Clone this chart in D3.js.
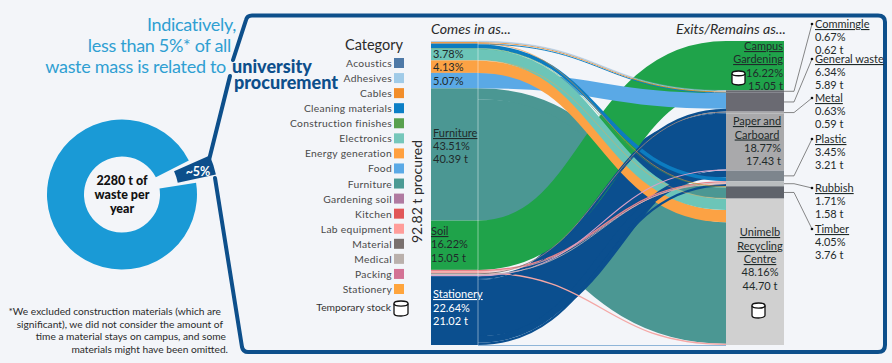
<!doctype html>
<html lang="en">
<head>
    <title>University procurement waste</title>
    <script src="https://d3js.org/d3.v7.min.js"></script>
    <style>
        body { margin: 0; background: #f3f5f9; }
        svg { display: block; }
        text { font-family: Lato, "Open Sans", sans-serif; fill: #2b2b2b; }
    </style>
</head>
<body>
    <script>
        const width = 892;
        const height = 363;

        // Donut
        const wasteShare = [95, 5];

        // Legend (colours as the legend shows them)
        const legendNames = ["Acoustics", "Adhesives", "Cables", "Cleaning materials", "Construction finishes",
            "Electronics", "Energy generation", "Food", "Furniture", "Gardening soil", "Kitchen",
            "Lab equipment", "Material", "Medical", "Packing", "Stationery"];
        const legendColours = ["#4e79a7", "#a0cbe8", "#f28e2b", "#0c7fc6", "#59a14f", "#76c7bb", "#ffa040", "#5aa9e6",
            "#4b9a94", "#b07aa1", "#e15759", "#ff9d9a", "#79706e", "#bab0ac", "#d37295", "#ffa53d"];

        // Sankey nodes, top to bottom
        const sourceNames = legendNames;
        const sourceColours = ["#8aa4c4", "#a7cbe8", "#f28e2b", "#0c7cc0", "#4aa04a", "#6cc5b8", "#fca244", "#5aa9e6",
            "#4b9793", "#1fa34a", "#e8828a", "#f4a7a5", "#8a7f80", "#c0b8b6", "#d8a0c8", "#0b4f8f"];
        const targetNames = ["Campus Gardening", "Commingle", "General waste", "Metal", "Paper and Carboard",
            "Plastic", "Rubbish", "Timber", "Unimelb Recycling Centre"];
        const targetColours = ["#1fa34a", "#6a6a72", "#6a6a72", "#a9a9ab", "#a9a9ab", "#7d858d", "#b9bdbf", "#5f636b", "#d0d0d0"];

        // Flows in tonnes, listed in the order they stack on the right hand side
        const flowSource = ["Gardening soil",
            "Acoustics", "Adhesives", "Cables",
            "Cleaning materials", "Food", "Stationery",
            "Material", "Stationery",
            "Stationery", "Packing",
            "Stationery", "Cleaning materials",
            "Kitchen", "Medical", "Lab equipment", "Stationery",
            "Cables", "Construction finishes", "Furniture", "Energy generation",
            "Electronics", "Energy generation", "Furniture", "Lab equipment"];
        const flowTarget = ["Campus Gardening",
            "Commingle", "Commingle", "Commingle",
            "General waste", "General waste", "General waste",
            "Metal", "Metal",
            "Paper and Carboard", "Paper and Carboard",
            "Plastic", "Plastic",
            "Rubbish", "Rubbish", "Rubbish", "Rubbish",
            "Timber", "Timber", "Timber", "Timber",
            "Unimelb Recycling Centre", "Unimelb Recycling Centre", "Unimelb Recycling Centre", "Unimelb Recycling Centre"];
        const flowTonnes = [15.05,
            0.10, 0.25, 0.27,
            0.29, 4.71, 0.89,
            0.30, 0.29,
            17.10, 0.33,
            2.05, 1.16,
            0.39, 0.25, 0.25, 0.69,
            0.18, 0.15, 3.30, 0.13,
            3.51, 3.70, 37.09, 0.40];

        const svg = d3.select("body")
            .append("svg")
            .attr("width", width)
            .attr("height", height);

        const navy = "#0d4f8b";

        /* Donut */
        const cx = 122, cy = 194.5;
        const deg = Math.PI / 180;
        const pie = d3.pie().sort(null).startAngle(81 * deg).endAngle(441 * deg);
        const slices = pie(wasteShare);
        const donut = svg.append("g").attr("transform", "translate(" + cx + "," + cy + ")");
        donut.append("path")
            .attr("d", d3.arc().innerRadius(38).outerRadius(75)(slices[0]))
            .attr("fill", "#1a9ad6");
        // the 5% slice is pulled out and drawn wider
        donut.append("path")
            .attr("d", d3.arc().innerRadius(57).outerRadius(96)
                .startAngle(slices[1].startAngle + 3 * deg)
                .endAngle(slices[1].endAngle - 3 * deg)())
            .attr("fill", navy);
        ["2280 t of", "waste per", "year"].forEach(function (t, i) {
            svg.append("text").attr("x", cx).attr("y", 185 + i * 14.2)
                .attr("text-anchor", "middle").attr("font-size", 12.5).attr("font-weight", 900)
                .style("fill", "#111").text(t);
        });
        svg.append("text").attr("x", 198).attr("y", 176).attr("text-anchor", "middle")
            .attr("font-size", 12.5).attr("font-weight", 700).style("fill", "#fff").text("~5%");

        /* Frame */
        const line = d3.line();
        svg.append("path")
            .attr("d", "M233,60 L246,20 Q247,15.5 252,15.5 L878,15.5 Q885,15.5 885,22 L885,345 Q885,352 878,352 L248,352 Q243,352 242,347 L215,178")
            .attr("fill", "none").attr("stroke", navy).attr("stroke-width", 4).attr("stroke-linecap", "round");
        svg.append("path")
            .attr("d", line([[230, 76], [209, 160]]))
            .attr("fill", "none").attr("stroke", navy).attr("stroke-width", 4).attr("stroke-linecap", "round");

        /* Headline */
        const headline = svg.append("g").attr("font-size", 18).attr("letter-spacing", -0.3).attr("text-anchor", "end");
        [["Indicatively,", 236, 31], ["less than 5%* of all", 231, 52], ["waste mass is related to", 226, 73]].forEach(function (t) {
            headline.append("text").attr("x", t[1]).attr("y", t[2]).style("fill", "#2f9fd2").text(t[0]);
        });
        [["university", 232, 73], ["procurement", 234, 89]].forEach(function (t) {
            svg.append("text").attr("x", t[1]).attr("y", t[2]).attr("font-size", 18).attr("font-weight", 900)
                .style("fill", navy).text(t[0]);
        });

        /* Footnote */
        [["*We excluded construction materials (which are", 221, 315],
         ["significant), we did not consider the amount of", 223, 328],
         ["time a material stays on campus, and some", 226, 340],
         ["materials might have been omitted.", 228, 353]].forEach(function (t) {
            svg.append("text").attr("x", t[1]).attr("y", t[2]).attr("text-anchor", "end")
                .attr("font-size", 10.2).text(t[0]);
        });

        /* Legend */
        svg.append("text").attr("x", 403).attr("y", 50).attr("text-anchor", "end").attr("font-size", 14.5).text("Category");
        const legendY = d3.scalePoint().domain(legendNames).range([63, 289]);
        const legend = svg.selectAll(".legend").data(legendNames).enter().append("g").attr("class", "legend");
        legend.append("rect")
            .attr("x", 394).attr("width", 10).attr("height", 10)
            .attr("y", function (d) { return legendY(d) - 5; })
            .attr("fill", function (d, i) { return legendColours[i]; });
        legend.append("text")
            .attr("x", 392).attr("text-anchor", "end").attr("font-size", 10.3)
            .attr("letter-spacing", 0.3)
            .attr("y", function (d) { return legendY(d) + 4; })
            .style("fill", "#4a4a4a")
            .text(function (d) { return d; });
        svg.append("text").attr("x", 391).attr("y", 311).attr("text-anchor", "end").attr("font-size", 10.3)
            .style("fill", "#333").text("Temporary stock");

        function cylinder(x, y, w, h) {
            const ry = h * 0.17;
            const g = svg.append("g").attr("fill", "#fff").attr("stroke", "#111").attr("stroke-width", 1.3);
            g.append("path").attr("d", "M" + x + "," + (y + ry) + " V" + (y + h - ry) +
                " A" + (w / 2) + "," + ry + " 0 0 0 " + (x + w) + "," + (y + h - ry) + " V" + (y + ry));
            g.append("ellipse").attr("cx", x + w / 2).attr("cy", y + ry).attr("rx", w / 2).attr("ry", ry);
        }
        cylinder(394, 301, 14, 15);

        svg.append("text").attr("transform", "translate(422,243) rotate(-90)").attr("font-size", 14).text("92.82 t procured");
        svg.append("text").attr("x", 431).attr("y", 34).attr("font-size", 14.2).attr("font-style", "italic").text("Comes in as...");
        svg.append("text").attr("x", 676).attr("y", 34).attr("font-size", 14.2).attr("font-style", "italic").text("Exits/Remains as...");

        /* Sankey: stacked by hand, links are stroked d3 horizontal links */
        const total = d3.sum(flowTonnes);
        const yScale = d3.scaleLinear().domain([0, total]).range([41, 345]);
        const thick = function (v) { return yScale(v) - yScale(0); };
        const xLeft = 431, xSourceEdge = 478, xTargetEdge = 726, xRight = 784;

        const sourceTotals = d3.rollup(flowTonnes.map(function (v, i) { return { v: v, s: flowSource[i] }; }),
            function (r) { return d3.sum(r, function (d) { return d.v; }); }, function (d) { return d.s; });
        const targetTotals = d3.rollup(flowTonnes.map(function (v, i) { return { v: v, t: flowTarget[i] }; }),
            function (r) { return d3.sum(r, function (d) { return d.v; }); }, function (d) { return d.t; });

        const sourceTop = new Map(), targetTop = new Map();
        let run = 0;
        sourceNames.forEach(function (n) { sourceTop.set(n, run); run += sourceTotals.get(n); });
        run = 0;
        targetNames.forEach(function (n) { targetTop.set(n, run); run += targetTotals.get(n); });

        const flows = flowTonnes.map(function (v, i) {
            const s = flowSource[i], t = flowTarget[i];
            const f = { value: v, source: s, y0: sourceTop.get(s) + v / 2, y1: targetTop.get(t) + v / 2 };
            sourceTop.set(s, sourceTop.get(s) + v);
            targetTop.set(t, targetTop.get(t) + v);
            return f;
        });

        // recompute tops for the node rectangles
        run = 0;
        const sourceNodes = sourceNames.map(function (n, i) {
            const d = { top: run, value: sourceTotals.get(n), colour: sourceColours[i] };
            run += d.value;
            return d;
        });
        run = 0;
        const targetNodes = targetNames.map(function (n, i) {
            const d = { name: n, top: run, value: targetTotals.get(n), colour: targetColours[i] };
            run += d.value;
            return d;
        });

        const link = d3.linkHorizontal()
            .source(function (d) { return [xSourceEdge, yScale(d.y0)]; })
            .target(function (d) { return [xTargetEdge, yScale(d.y1)]; });

        // furniture goes right at the bottom, then biggest flows first
        const drawOrder = flows.slice().sort(function (a, b) {
            const fa = a.source === "Furniture" ? 0 : 1, fb = b.source === "Furniture" ? 0 : 1;
            return fa - fb || b.value - a.value;
        });
        svg.append("g").attr("fill", "none")
            .selectAll("path")
            .data(drawOrder)
            .enter()
            .append("path")
            .attr("d", link)
            .attr("stroke", function (d) { return sourceColours[sourceNames.indexOf(d.source)]; })
            .attr("stroke-width", function (d) { return thick(d.value); });

        svg.append("g").selectAll("rect").data(sourceNodes).enter().append("rect")
            .attr("x", xLeft).attr("width", xSourceEdge - xLeft)
            .attr("y", function (d) { return yScale(d.top); })
            .attr("height", function (d) { return thick(d.value); })
            .attr("fill", function (d) { return d.colour; });
        svg.append("g").selectAll("rect").data(targetNodes).enter().append("rect")
            .attr("x", xTargetEdge).attr("width", xRight - xTargetEdge)
            .attr("y", function (d) { return yScale(d.top); })
            .attr("height", function (d) { return thick(d.value); })
            .attr("fill", function (d) { return d.colour; });

        svg.append("line").attr("x1", xSourceEdge).attr("x2", xSourceEdge).attr("y1", yScale(0)).attr("y2", yScale(total))
            .attr("stroke", "#fff").attr("stroke-opacity", 0.45);
        svg.append("line").attr("x1", xSourceEdge).attr("x2", xTargetEdge).attr("y1", yScale(total) + 0.5).attr("y2", yScale(total) + 0.5)
            .attr("stroke", "#8fb5d8");

        /* Labels on the nodes */
        function label(x, y, t, opts) {
            opts = opts || {};
            svg.append("text").attr("x", x).attr("y", y)
                .attr("font-size", opts.size || 11)
                .attr("text-anchor", opts.anchor || "start")
                .attr("text-decoration", opts.under ? "underline" : null)
                .style("fill", opts.fill || "#1f2a2a")
                .text(t);
        }
        label(433, 58, "3.78%");
        label(433, 71, "4.13%");
        label(433, 85, "5.07%");
        label(433, 137, "Furniture", { under: true });
        label(433, 149.5, "43.51%");
        label(433, 163, "40.39 t");
        label(431, 235, "Soil", { under: true });
        label(431, 248, "16.22%");
        label(431, 262, "15.05 t");
        label(433, 298, "Stationery", { under: true, fill: "#fff" });
        label(433, 312, "22.64%", { fill: "#fff" });
        label(433, 325, "21.02 t", { fill: "#fff" });

        label(783, 50, "Campus", { anchor: "end", under: true });
        label(783, 63, "Gardening", { anchor: "end", under: true });
        label(783, 77, "16.22%", { anchor: "end" });
        label(783, 90, "15.05 t", { anchor: "end" });
        cylinder(732, 71, 13, 14);

        label(757, 125, "Paper and", { anchor: "middle", under: true });
        label(757, 138.5, "Carboard", { anchor: "middle", under: true });
        label(781, 152, "18.77%", { anchor: "end" });
        label(781, 165, "17.43 t", { anchor: "end" });

        label(760, 236, "Unimelb", { anchor: "middle", under: true });
        label(760, 250, "Recycling", { anchor: "middle", under: true });
        label(760, 263, "Centre", { anchor: "middle", under: true });
        label(760, 276, "48.16%", { anchor: "middle" });
        label(760, 290, "44.70 t", { anchor: "middle" });
        cylinder(752, 303, 13, 15);

        /* Leader lines and waste stream labels */
        const callouts = [["Commingle", "0.67%", "0.62 t", 28], ["General waste", "6.34%", "5.89 t", 63], ["Metal", "0.63%", "0.59 t", 102],
            ["Plastic", "3.45%", "3.21 t", 143], ["Rubbish", "1.71%", "1.58 t", 192], ["Timber", "4.05%", "3.76 t", 233]];
        callouts.forEach(function (c) {
            const node = targetNodes.find(function (d) { return d.name === c[0]; });
            const midY = yScale(node.top + node.value / 2);
            const tipY = c[3] - 4;
            svg.append("path")
                .attr("d", line([[xRight, midY], [794, midY], [812, tipY]]))
                .attr("fill", "none").attr("stroke", "#555").attr("stroke-width", 0.7);
            svg.append("circle").attr("cx", 812).attr("cy", tipY).attr("r", 1.3).attr("fill", "#111");
            label(815, c[3], c[0], { under: true });
            label(815, c[3] + 13, c[1]);
            label(815, c[3] + 25.5, c[2]);
        });
    </script>
</body>
</html>
